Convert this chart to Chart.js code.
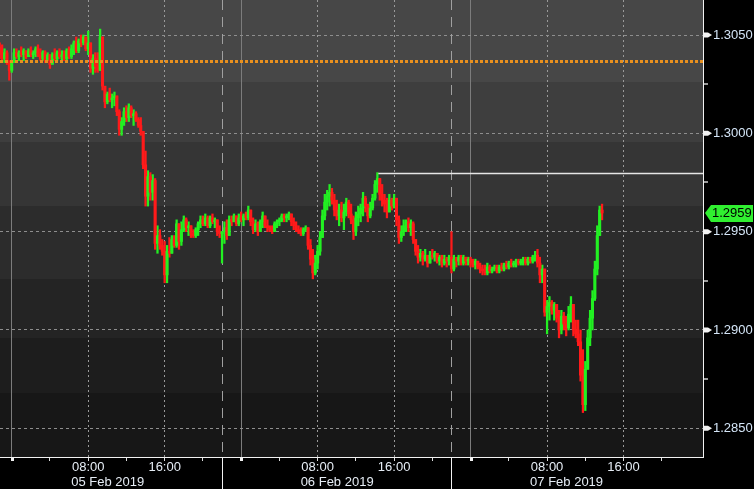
<!DOCTYPE html>
<html>
<head>
<meta charset="utf-8">
<script src="https://cdn.jsdelivr.net/npm/chart.js@4.4.1/dist/chart.umd.min.js"></script>
<style>
    html, body { margin: 0; padding: 0; background: #000; }
    canvas { display: block; }
</style>
</head>
<body>
<canvas id="grafico" width="754" height="489"></canvas>
<script>
// GBP/USD, velas de 15 minutos; horas contadas desde 00:00 del 05 Feb 2019
const inicioHoras = -1.25;
const pasoHoras = 0.25;
const primeraApertura = 1.3044;

const maximos = [
    1.3046,1.3045,1.3043,1.3042,1.3037,1.3037,1.3043,1.3043,1.3042,1.3044,
    1.3043,1.3042,1.3043,1.3044,1.3042,1.3044,1.3045,1.3043,1.3042,1.3042,
    1.3041,1.3040,1.3041,1.3043,1.3042,1.3043,1.3042,1.3042,1.3043,1.3044,
    1.3045,1.3047,1.3049,1.3048,1.3050,1.3050,1.3049,1.3052,1.3046,1.3040,
    1.3041,1.3041,1.3053,1.3049,1.3023,1.3021,1.3023,1.3020,1.3021,1.3019,
    1.3012,1.3008,1.3013,1.3014,1.3015,1.3014,1.3012,1.3011,1.3008,1.3008,
    1.3001,1.2991,1.2981,1.2980,1.2979,1.2977,1.2953,1.2951,1.2946,1.2945,
    1.2943,1.2947,1.2948,1.2948,1.2956,1.2954,1.2955,1.2958,1.2957,1.2955,
    1.2953,1.2951,1.2952,1.2955,1.2958,1.2958,1.2959,1.2958,1.2958,1.2959,
    1.2957,1.2956,1.2953,1.2950,1.2955,1.2956,1.2958,1.2958,1.2959,1.2958,
    1.2959,1.2960,1.2959,1.2960,1.2963,1.2961,1.2957,1.2956,1.2955,1.2956,
    1.2960,1.2958,1.2956,1.2953,1.2953,1.2955,1.2956,1.2957,1.2959,1.2959,
    1.2959,1.2960,1.2959,1.2957,1.2955,1.2953,1.2952,1.2952,1.2953,1.2952,
    1.2946,1.2941,1.2938,1.2943,1.2950,1.2961,1.2969,1.2971,1.2974,1.2972,
    1.2969,1.2966,1.2964,1.2965,1.2964,1.2967,1.2966,1.2964,1.2958,1.2960,
    1.2963,1.2964,1.2970,1.2968,1.2964,1.2965,1.2969,1.2976,1.2980,1.2977,
    1.2974,1.2969,1.2967,1.2969,1.2967,1.2969,1.2967,1.2958,1.2953,1.2956,
    1.2956,1.2957,1.2956,1.2955,1.2946,1.2943,1.2941,1.2940,1.2941,1.2938,
    1.2940,1.2941,1.2940,1.2939,1.2938,1.2938,1.2938,1.2937,1.2938,1.2950,
    1.2938,1.2937,1.2938,1.2938,1.2938,1.2937,1.2937,1.2937,1.2936,1.2936,
    1.2935,1.2934,1.2933,1.2933,1.2934,1.2933,1.2932,1.2933,1.2933,1.2933,
    1.2934,1.2934,1.2935,1.2935,1.2936,1.2935,1.2936,1.2936,1.2936,1.2937,
    1.2937,1.2937,1.2937,1.2938,1.2940,1.2941,1.2937,1.2933,1.2931,1.2915,
    1.2917,1.2915,1.2914,1.2913,1.2910,1.2910,1.2909,1.2907,1.2912,1.2917,
    1.2913,1.2905,1.2905,1.2900,1.2890,1.2884,1.2900,1.2910,1.2920,1.2935,
    1.2953,1.2963,1.2964
];

const minimos = [
    1.3038,1.3037,1.3036,1.3035,1.3027,1.3031,1.3036,1.3038,1.3037,1.3039,
    1.3037,1.3038,1.3039,1.3039,1.3038,1.3039,1.3039,1.3037,1.3037,1.3036,
    1.3037,1.3033,1.3036,1.3037,1.3037,1.3038,1.3036,1.3037,1.3037,1.3038,
    1.3038,1.3040,1.3041,1.3041,1.3044,1.3045,1.3042,1.3040,1.3031,1.3030,
    1.3031,1.3031,1.3032,1.3022,1.3013,1.3015,1.3016,1.3013,1.3014,1.3009,
    1.2999,1.2999,1.3004,1.3006,1.3006,1.3008,1.3004,1.3006,1.3003,1.2999,
    1.2982,1.2963,1.2963,1.2966,1.2966,1.2941,1.2939,1.2941,1.2938,1.2924,
    1.2924,1.2937,1.2939,1.2942,1.2942,1.2941,1.2943,1.2950,1.2950,1.2948,
    1.2947,1.2947,1.2947,1.2948,1.2952,1.2953,1.2953,1.2952,1.2952,1.2954,
    1.2952,1.2948,1.2947,1.2934,1.2944,1.2946,1.2948,1.2953,1.2955,1.2953,
    1.2953,1.2955,1.2953,1.2956,1.2956,1.2953,1.2949,1.2950,1.2948,1.2950,
    1.2952,1.2952,1.2950,1.2950,1.2949,1.2950,1.2952,1.2953,1.2955,1.2955,
    1.2955,1.2956,1.2953,1.2951,1.2950,1.2949,1.2948,1.2948,1.2950,1.2941,
    1.2933,1.2926,1.2928,1.2931,1.2938,1.2947,1.2956,1.2961,1.2963,1.2964,
    1.2958,1.2956,1.2953,1.2955,1.2951,1.2958,1.2957,1.2954,1.2946,1.2948,
    1.2953,1.2955,1.2958,1.2960,1.2955,1.2957,1.2961,1.2966,1.2970,1.2966,
    1.2963,1.2960,1.2957,1.2960,1.2961,1.2962,1.2953,1.2944,1.2945,1.2948,
    1.2950,1.2950,1.2948,1.2944,1.2938,1.2934,1.2935,1.2933,1.2935,1.2932,
    1.2934,1.2936,1.2935,1.2934,1.2933,1.2932,1.2933,1.2932,1.2933,1.2929,
    1.2930,1.2932,1.2933,1.2933,1.2933,1.2933,1.2933,1.2932,1.2932,1.2931,
    1.2931,1.2929,1.2928,1.2928,1.2928,1.2929,1.2929,1.2930,1.2929,1.2929,
    1.2930,1.2930,1.2931,1.2931,1.2932,1.2932,1.2932,1.2933,1.2933,1.2933,
    1.2933,1.2933,1.2934,1.2934,1.2935,1.2932,1.2924,1.2924,1.2907,1.2898,
    1.2905,1.2908,1.2905,1.2904,1.2896,1.2898,1.2900,1.2897,1.2900,1.2904,
    1.2897,1.2896,1.2892,1.2874,1.2858,1.2859,1.2880,1.2892,1.2900,1.2915,
    1.2928,1.2948,1.2956
];

const cierres = [
    1.3040,1.3038,1.3041,1.3036,1.3032,1.3036,1.3041,1.3039,1.3041,1.3040,
    1.3042,1.3039,1.3042,1.3040,1.3041,1.3043,1.3040,1.3038,1.3041,1.3037,
    1.3040,1.3035,1.3040,1.3038,1.3041,1.3039,1.3040,1.3038,1.3042,1.3039,
    1.3043,1.3046,1.3042,1.3047,1.3046,1.3049,1.3043,1.3046,1.3033,1.3038,
    1.3034,1.3032,1.3049,1.3024,1.3016,1.3020,1.3017,1.3018,1.3019,1.3011,
    1.3002,1.3006,1.3011,1.3008,1.3013,1.3009,1.3010,1.3007,1.3004,1.3001,
    1.2984,1.2968,1.2978,1.2970,1.2976,1.2944,1.2948,1.2943,1.2940,1.2928,
    1.2940,1.2939,1.2946,1.2943,1.2954,1.2945,1.2951,1.2956,1.2952,1.2953,
    1.2949,1.2948,1.2951,1.2954,1.2956,1.2954,1.2957,1.2953,1.2957,1.2955,
    1.2956,1.2950,1.2949,1.2950,1.2952,1.2948,1.2956,1.2955,1.2958,1.2954,
    1.2957,1.2956,1.2958,1.2957,1.2961,1.2955,1.2951,1.2954,1.2950,1.2955,
    1.2958,1.2953,1.2952,1.2951,1.2950,1.2954,1.2955,1.2956,1.2958,1.2957,
    1.2958,1.2959,1.2955,1.2953,1.2951,1.2950,1.2949,1.2951,1.2952,1.2943,
    1.2936,1.2929,1.2934,1.2940,1.2947,1.2958,1.2965,1.2968,1.2970,1.2966,
    1.2961,1.2958,1.2961,1.2957,1.2960,1.2965,1.2959,1.2956,1.2950,1.2957,
    1.2959,1.2962,1.2967,1.2963,1.2958,1.2962,1.2967,1.2974,1.2977,1.2969,
    1.2966,1.2964,1.2960,1.2966,1.2963,1.2967,1.2956,1.2947,1.2950,1.2953,
    1.2955,1.2952,1.2954,1.2946,1.2940,1.2937,1.2939,1.2936,1.2938,1.2934,
    1.2938,1.2937,1.2939,1.2935,1.2937,1.2934,1.2936,1.2935,1.2937,1.2931,
    1.2936,1.2935,1.2937,1.2934,1.2937,1.2935,1.2936,1.2934,1.2933,1.2935,
    1.2932,1.2931,1.2930,1.2929,1.2932,1.2930,1.2931,1.2932,1.2930,1.2932,
    1.2931,1.2933,1.2932,1.2934,1.2933,1.2934,1.2935,1.2934,1.2935,1.2936,
    1.2934,1.2936,1.2935,1.2937,1.2938,1.2934,1.2928,1.2931,1.2909,1.2912,
    1.2914,1.2910,1.2913,1.2906,1.2900,1.2907,1.2903,1.2901,1.2908,1.2913,
    1.2900,1.2898,1.2894,1.2877,1.2862,1.2880,1.2896,1.2906,1.2916,1.2931,
    1.2948,1.2961,1.29595
];

const ultimoPrecio = 1.29595;
const nivelNaranja = 1.30365;
const maximoSesion = 1.29798;
const maximoSesionDesde = 38.35;
const fechas = ['05 Feb 2019', '06 Feb 2019', '07 Feb 2019'];
const cierresSesion = [22, 46];

const ejeXMin = -1.224;
const ejeXMax = 72.31;
const ejeYMin = 1.28354;
const ejeYMax = 1.30678;

const verde = '#22f022';
const rojo = '#ff1a1a';
const fuente = { family: "'Liberation Sans', Arial, sans-serif", size: 13, lineHeight: 1 };

const bandas = [
    [0, 0.18, '#474747'],
    [0.18, 0.31, '#3e3e3e'],
    [0.31, 0.45, '#353535'],
    [0.45, 0.61, '#2c2c2c'],
    [0.61, 0.74, '#242424'],
    [0.74, 0.86, '#1d1d1d'],
    [0.86, 1, '#171717']
];

const horas = cierres.map((c, i) => inicioHoras + i * pasoHoras);
const aperturas = cierres.map((c, i) => i === 0 ? primeraApertura : cierres[i - 1]);
const colores = cierres.map((c, i) => c >= aperturas[i] ? verde : rojo);

function horaDelDia(v) {
    return ((Math.round(v) % 24) + 24) % 24;
}

function esPrincipal(v) {
    const n = v / 0.005;
    return Math.abs(n - Math.round(n)) < 1e-6;
}

const decorado = {
    id: 'decorado',
    beforeDraw(chart) {
        const { ctx, chartArea: a } = chart;
        ctx.save();
        ctx.fillStyle = '#000';
        ctx.fillRect(0, 0, chart.width, chart.height);
        const g = ctx.createLinearGradient(0, a.top, 0, a.bottom);
        bandas.forEach(([desde, hasta, color]) => {
            g.addColorStop(desde, color);
            g.addColorStop(hasta, color);
        });
        ctx.fillStyle = g;
        ctx.fillRect(a.left, a.top, a.right - a.left, a.bottom - a.top);
        ctx.restore();
    },
    beforeDatasetsDraw(chart) {
        const { ctx, chartArea: a, scales } = chart;
        ctx.save();
        ctx.strokeStyle = '#a0a0a0';
        ctx.lineWidth = 1;
        ctx.setLineDash([10, 7]);
        cierresSesion.forEach(h => {
            const x = Math.round(scales.x.getPixelForValue(h)) + 0.5;
            ctx.beginPath();
            ctx.moveTo(x, a.top);
            ctx.lineTo(x, a.bottom);
            ctx.stroke();
        });
        ctx.restore();
    },
    afterDatasetsDraw(chart) {
        const { ctx, chartArea: a, scales } = chart;
        ctx.save();
        // nivel naranja punteado
        const yn = scales.y.getPixelForValue(nivelNaranja);
        ctx.strokeStyle = '#e8901e';
        ctx.lineWidth = 3;
        ctx.setLineDash([3, 2]);
        ctx.beginPath();
        ctx.moveTo(a.left, yn);
        ctx.lineTo(a.right, yn);
        ctx.stroke();
        // maximo de la sesion
        const ym = Math.round(scales.y.getPixelForValue(maximoSesion)) + 0.5;
        ctx.setLineDash([]);
        ctx.strokeStyle = '#e6e6e6';
        ctx.lineWidth = 1.3;
        ctx.beginPath();
        ctx.moveTo(scales.x.getPixelForValue(maximoSesionDesde), ym);
        ctx.lineTo(a.right, ym);
        ctx.stroke();
        ctx.restore();
    },
    afterDraw(chart) {
        const { ctx, chartArea: a, scales } = chart;
        ctx.save();
        ctx.strokeStyle = '#f2f2f2';
        ctx.lineWidth = 1;
        ctx.beginPath();
        ctx.moveTo(a.right + 0.5, 0);
        ctx.lineTo(a.right + 0.5, a.bottom + 1);
        ctx.moveTo(0, a.bottom + 0.5);
        ctx.lineTo(a.right + 1, a.bottom + 0.5);
        ctx.stroke();

        // separadores de sesion bajo el eje
        cierresSesion.forEach(h => {
            const x = Math.round(scales.x.getPixelForValue(h)) + 0.5;
            ctx.beginPath();
            ctx.moveTo(x, a.bottom);
            ctx.lineTo(x, chart.height);
            ctx.stroke();
        });

        // marcas de medianoche
        ctx.fillStyle = '#f2f2f2';
        [0, 24, 48].forEach(h => {
            const x = Math.round(scales.x.getPixelForValue(h));
            ctx.fillRect(x - 1, a.bottom + 1, 3, 3);
        });

        // marcas del eje de precios
        scales.y.ticks.forEach(t => {
            const y = scales.y.getPixelForValue(t.value);
            if (esPrincipal(t.value)) {
                ctx.fillStyle = '#f2f2f2';
                ctx.beginPath();
                ctx.moveTo(a.right + 1, y - 2.5);
                ctx.lineTo(a.right + 5, y - 2.5);
                ctx.lineTo(a.right + 9, y);
                ctx.lineTo(a.right + 5, y + 2.5);
                ctx.lineTo(a.right + 1, y + 2.5);
                ctx.closePath();
                ctx.fill();
            } else {
                ctx.fillStyle = '#9a9a9a';
                ctx.fillRect(a.right + 1, Math.round(y) - 1, 4, 2);
            }
        });

        // fechas
        ctx.font = "13px 'Liberation Sans', Arial, sans-serif";
        ctx.fillStyle = '#e6edf5';
        ctx.textAlign = 'left';
        ctx.textBaseline = 'middle';
        fechas.forEach((f, d) => {
            const x = scales.x.getPixelForValue(d * 24 + 8) - 17;
            ctx.fillText(f, x, 482.5);
        });

        // etiqueta del ultimo precio
        const yp = Math.round(scales.y.getPixelForValue(ultimoPrecio));
        ctx.fillStyle = '#30f030';
        ctx.beginPath();
        ctx.moveTo(a.right + 2, yp);
        ctx.lineTo(a.right + 8, yp - 8);
        ctx.lineTo(chart.width - 1, yp - 8);
        ctx.lineTo(chart.width - 1, yp + 9);
        ctx.lineTo(a.right + 8, yp + 9);
        ctx.closePath();
        ctx.fill();
        ctx.fillStyle = '#000';
        ctx.fillText(ultimoPrecio.toFixed(4), a.right + 9, yp + 0.5);
        ctx.restore();
    }
};

let grafico = null;

function dibujarGrafico() {
    const ctx = document.getElementById('grafico').getContext('2d');

    if (grafico) {
        grafico.destroy();
    }

    grafico = new Chart(ctx, {
        type: 'bar',
        data: {
            datasets: [{
                label: 'Rango',
                data: horas.map((h, i) => ({ x: h, y: [minimos[i], maximos[i]] })),
                backgroundColor: colores,
                barThickness: 1.6,
                grouped: false,
                order: 2
            }, {
                label: 'Cuerpo',
                data: horas.map((h, i) => ({ x: h, y: [aperturas[i], cierres[i]] })),
                backgroundColor: colores,
                barThickness: 2.4,
                minBarLength: 1,
                grouped: false,
                order: 1
            }]
        },
        options: {
            responsive: false,
            animation: false,
            layout: { padding: 0 },
            plugins: {
                legend: { display: false },
                tooltip: { enabled: false }
            },
            scales: {
                x: {
                    type: 'linear',
                    min: ejeXMin,
                    max: ejeXMax,
                    offset: false,
                    afterFit: eje => {
                        eje.height = 32;
                        eje.paddingLeft = 0;
                        eje.paddingRight = 0;
                    },
                    grid: {
                        offset: false,
                        lineWidth: 1,
                        color: c => {
                            if (!c.tick || c.tick.value >= 72) return 'rgba(0,0,0,0)';
                            const h = horaDelDia(c.tick.value);
                            if (h === 0) return '#7c7c7c';
                            if (h === 8 || h === 16) return '#9a9a9a';
                            return 'rgba(0,0,0,0)';
                        },
                        drawTicks: true,
                        tickLength: 4,
                        tickColor: c => c.tick && c.tick.value < 72 ? '#dcdcdc' : 'rgba(0,0,0,0)'
                    },
                    border: {
                        display: false,
                        dash: c => (c.tick && horaDelDia(c.tick.value) !== 0) ? [2, 3] : []
                    },
                    ticks: {
                        stepSize: 4,
                        includeBounds: false,
                        autoSkip: false,
                        maxRotation: 0,
                        padding: 0,
                        color: '#e6edf5',
                        font: fuente,
                        callback: v => {
                            const h = horaDelDia(v);
                            return h === 8 || h === 16 ? String(h).padStart(2, '0') + ':00' : '';
                        }
                    }
                },
                y: {
                    position: 'right',
                    min: ejeYMin,
                    max: ejeYMax,
                    afterFit: eje => {
                        eje.width = 51;
                        eje.paddingTop = 0;
                        eje.paddingBottom = 0;
                    },
                    grid: {
                        color: c => c.tick && esPrincipal(c.tick.value) ? '#8e8e8e' : 'rgba(0,0,0,0)',
                        drawTicks: false
                    },
                    border: { display: false, dash: [3, 3] },
                    ticks: {
                        stepSize: 0.0025,
                        includeBounds: false,
                        padding: 10,
                        color: '#d4e5f7',
                        font: fuente,
                        callback: v => esPrincipal(v) ? v.toFixed(4) : ''
                    }
                }
            }
        },
        plugins: [decorado]
    });
}

dibujarGrafico();
</script>
</body>
</html>
